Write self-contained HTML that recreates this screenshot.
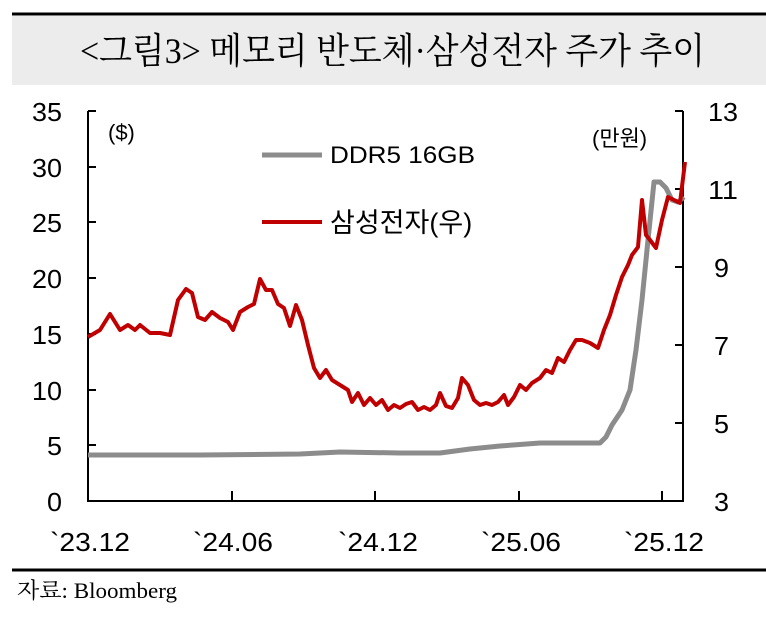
<!DOCTYPE html>
<html><head><meta charset="utf-8"><style>
body{margin:0;background:#fff;width:766px;height:619px;overflow:hidden}
svg{display:block}
.t{font-family:"Liberation Sans Narrow","Liberation Sans",sans-serif;font-size:26px;fill:#000}
</style></head><body>
<svg width="766" height="619" xmlns="http://www.w3.org/2000/svg">
<line x1="12" y1="14" x2="766" y2="14" stroke="#000" stroke-width="3"/>
<rect x="12" y="16" width="754" height="69" fill="#ececec"/>
<text x="80" y="63" textLength="625" lengthAdjust="spacingAndGlyphs" font-family="'Liberation Serif','Noto Serif CJK SC',serif" font-size="36" fill="#000">&lt;그림3&gt;  메모리 반도체·삼성전자 주가 추이</text>
<g stroke="#000" stroke-width="2" fill="none">
<path d="M88 111 V501 H683 V111"/>
<path d="M88 111h8M88 167h8M88 222h8M88 278h8M88 334h8M88 390h8M88 445h8"/>
<path d="M683 111h-8M683 189h-8M683 267h-8M683 345h-8M683 423h-8"/>
<path d="M232 501v-10M375 501v-10M519 501v-10M662 501v-10"/>
</g>
<g class="t">
<text x="32" y="121" textLength="30" lengthAdjust="spacingAndGlyphs">35</text><text x="32" y="177" textLength="30" lengthAdjust="spacingAndGlyphs">30</text><text x="32" y="232" textLength="30" lengthAdjust="spacingAndGlyphs">25</text><text x="32" y="288" textLength="30" lengthAdjust="spacingAndGlyphs">20</text><text x="32" y="344" textLength="30" lengthAdjust="spacingAndGlyphs">15</text><text x="32" y="400" textLength="30" lengthAdjust="spacingAndGlyphs">10</text><text x="47" y="455" textLength="15" lengthAdjust="spacingAndGlyphs">5</text><text x="47" y="511" textLength="15" lengthAdjust="spacingAndGlyphs">0</text>
<text x="708" y="121" textLength="30" lengthAdjust="spacingAndGlyphs">13</text><text x="708" y="199" textLength="30" lengthAdjust="spacingAndGlyphs">11</text><text x="714" y="277" textLength="15" lengthAdjust="spacingAndGlyphs">9</text><text x="714" y="355" textLength="15" lengthAdjust="spacingAndGlyphs">7</text><text x="714" y="433" textLength="15" lengthAdjust="spacingAndGlyphs">5</text><text x="714" y="511" textLength="15" lengthAdjust="spacingAndGlyphs">3</text>
<text x="50" y="551" textLength="80" lengthAdjust="spacingAndGlyphs">`23.12</text><text x="193" y="551" textLength="80" lengthAdjust="spacingAndGlyphs">`24.06</text><text x="338" y="551" textLength="80" lengthAdjust="spacingAndGlyphs">`24.12</text><text x="481" y="551" textLength="80" lengthAdjust="spacingAndGlyphs">`25.06</text><text x="624" y="551" textLength="80" lengthAdjust="spacingAndGlyphs">`25.12</text>
<text x="108" y="140" font-size="22">($)</text>
<text x="592" y="146" font-size="22" font-family="'Liberation Sans','Noto Sans CJK KR',sans-serif">(만원)</text>
<text x="330" y="163" font-size="24" textLength="145" lengthAdjust="spacingAndGlyphs">DDR5 16GB</text>
<text x="330" y="232" font-size="27" font-family="'Liberation Sans','Noto Sans CJK KR',sans-serif">삼성전자(우)</text>
</g>
<line x1="262" y1="155" x2="322" y2="155" stroke="#8c8c8c" stroke-width="5"/>
<line x1="262" y1="222" x2="322" y2="222" stroke="#c00000" stroke-width="4"/>
<polyline fill="none" stroke="#8c8c8c" stroke-width="5" stroke-linejoin="round" points="88,455 200,455 300,454 340,452 400,453 440,453 470,449 500,446 540,443 600,443 606,437 612,425 622,410 630,390 636,350 642,300 648,240 654,182 660,182 666,188 672,200 678,202 684,197"/>
<polyline fill="none" stroke="#c00000" stroke-width="4" stroke-linejoin="round" points="88,337 100,330 110,314 120,330 128,325 135,330 140,325 150,333 160,333 170,335 178,300 186,289 192,293 198,317 205,320 212,312 220,318 228,322 233,330 240,312 248,307 254,304 260,279 266,290 272,290 278,304 284,308 290,326 296,305 302,320 308,345 314,368 320,378 326,370 332,380 340,385 348,390 352,402 358,393 364,405 370,398 376,405 382,400 388,410 394,405 400,408 406,404 412,402 418,410 424,407 430,410 436,405 440,393 446,406 452,408 458,398 462,378 468,385 474,400 480,405 486,403 492,405 498,402 504,395 508,405 514,397 520,385 526,390 532,383 540,378 546,370 552,373 558,358 564,362 570,350 576,340 582,340 590,343 598,348 604,330 610,315 616,295 622,277 628,265 632,255 638,247 642,200 646,235 650,240 656,248 662,220 668,197 674,200 680,203 685,162"/>
<line x1="12" y1="570" x2="766" y2="570" stroke="#000" stroke-width="3"/>
<text x="17" y="598" font-family="'Liberation Serif','Noto Serif CJK SC',serif" font-size="22" fill="#000" textLength="160" lengthAdjust="spacingAndGlyphs">자료: Bloomberg</text>
</svg>
</body></html>
